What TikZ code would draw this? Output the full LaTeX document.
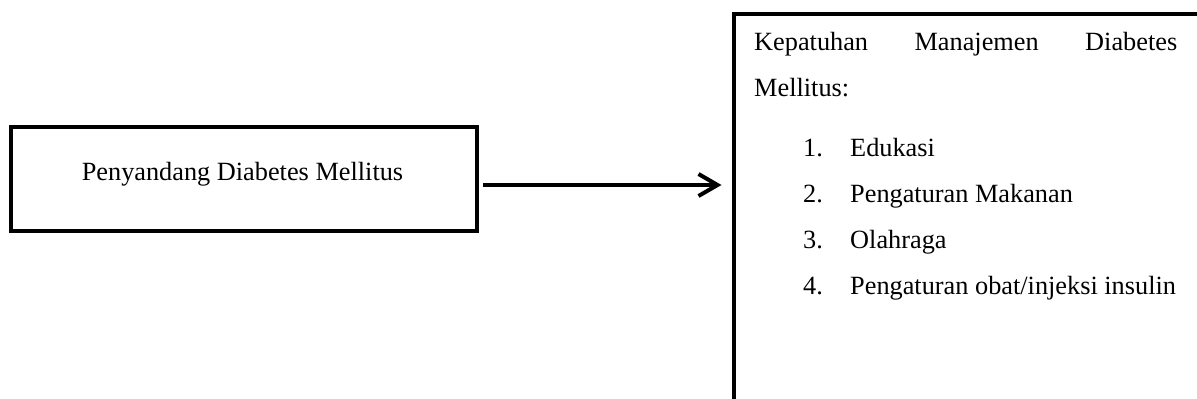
\documentclass[tikz,border=0pt]{standalone}
\usepackage{fontspec}
\setmainfont{Liberation Serif}
\usetikzlibrary{arrows.meta}
\begin{document}
\begin{tikzpicture}[x=1pt,y=-1pt,
  box/.style={draw, line width=4pt, inner sep=0pt, outer sep=0pt, anchor=north west},
  txt/.style={font=\fontsize{26.3}{30}\selectfont, inner sep=0pt, anchor=base west},
  arr/.style={line width=3.6pt, -{Straight Barb[length=19pt,width=22pt,line width=4pt]}}]
\useasboundingbox (0,0) rectangle (1197,399);
\clip (0,0) rectangle (1197,399);
% left box: the patient group
\node[box, minimum width=466.5pt, minimum height=104pt] (lbox) at (10.5,127) {};
\node[txt, anchor=base] (ltext) at (242.5,180) {Penyandang Diabetes Mellitus};
% right box: management compliance, running past the page edge
\node[box, minimum width=500pt, minimum height=420pt] (rbox) at (733.5,13.5) {};
\node[txt] (head1) at (754,50.5) {\makebox[423pt][s]{Kepatuhan\hfill Manajemen\hfill Diabetes}};
\node[txt] (head2) at (754,96.7) {Mellitus:};
\node[txt] (n1) at (803,156.7) {1.};
\node[txt] (i1) at (850,156.7) {Edukasi};
\node[txt] (n2) at (803,202.6) {2.};
\node[txt] (i2) at (850,202.6) {Pengaturan Makanan};
\node[txt] (n3) at (803,248.5) {3.};
\node[txt] (i3) at (850,248.5) {Olahraga};
\node[txt] (n4) at (803,294.4) {4.};
\node[txt] (i4) at (850,294.4) {Pengaturan obat/injeksi insulin};
% connector
\draw[arr] ([xshift=6pt,yshift=-6pt]lbox.east) -- ([xshift=-12pt,yshift=-6pt]lbox.east -| rbox.west);
\end{tikzpicture}
\end{document}
